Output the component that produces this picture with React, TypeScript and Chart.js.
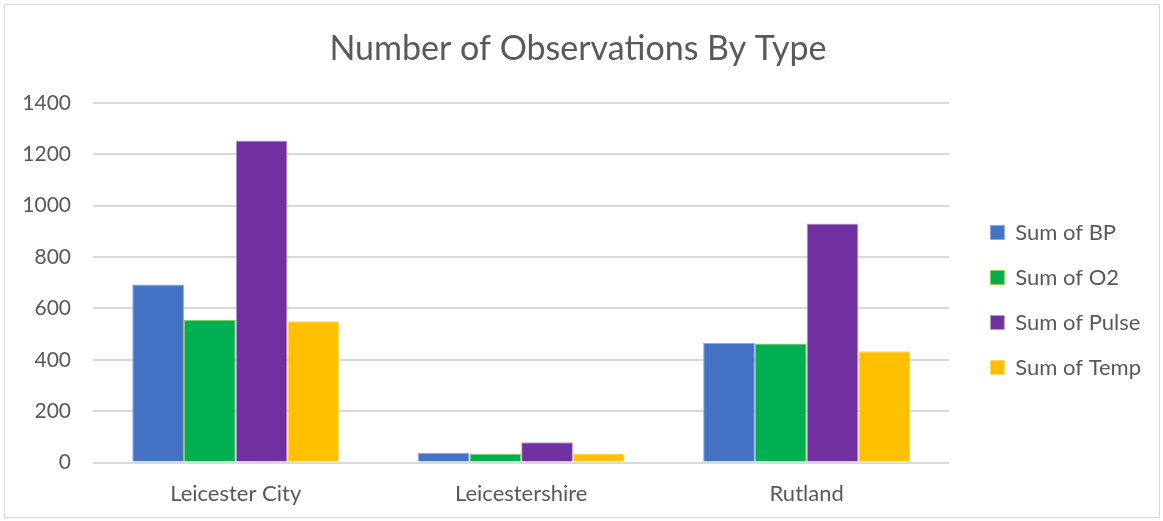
import React, { useEffect, useRef } from "react";
import { Chart, registerables } from "chart.js";

Chart.register(...registerables);

const categories = ["Leicester City", "Leicestershire", "Rutland"];
const seriesNames = ["Sum of BP", "Sum of O2", "Sum of Pulse", "Sum of Temp"];
const sumBP = [693, 38, 465];
const sumO2 = [556, 34, 463];
const sumPulse = [1253, 79, 930];
const sumTemp = [550, 35, 433];
const fillColors = ["#4472C4", "#00B050", "#7030A0", "#FFC000"];
const edgeColors = ["#8FAADC", "#92D050", "#B4A0D0", "#FFD966"];

const FONT = "Lato, 'Open Sans', sans-serif";

export default function App() {
  const ref = useRef<HTMLCanvasElement | null>(null);
  useEffect(() => {
    if (!ref.current) return;
    const values = [sumBP, sumO2, sumPulse, sumTemp];
    const chart = new Chart(ref.current, {
      type: "bar",
      data: {
        labels: categories,
        datasets: seriesNames.map((name, i) => ({
          label: name,
          data: values[i],
          backgroundColor: fillColors[i],
          borderColor: edgeColors[i],
          borderWidth: 1,
          categoryPercentage: 0.725,
          barPercentage: 1,
        })),
      },
      options: {
        animation: false,
        responsive: false,
        maintainAspectRatio: false,
        layout: { padding: { left: 0, right: 8, top: 0, bottom: 0 } },
        plugins: {
          title: {
            display: true,
            text: "Number of Observations By Type",
            color: "#595959",
            font: { family: FONT, size: 34, weight: "normal" },
            padding: { top: 24, bottom: 33 },
          },
          legend: {
            position: "right",
            title: {
              display: true,
              text: " ",
              font: { size: 10 },
              padding: { top: 33, bottom: 33 },
            },
            labels: {
              boxWidth: 14,
              boxHeight: 14,
              padding: 23,
              color: "#595959",
              font: { family: FONT, size: 22 },
            },
          },
          tooltip: { enabled: false },
        },
        scales: {
          x: {
            grid: { display: false },
            border: { display: false },
            ticks: { color: "#595959", font: { family: FONT, size: 22 }, padding: 10 },
          },
          y: {
            min: 0,
            max: 1400,
            ticks: {
              stepSize: 200,
              color: "#595959",
              font: { family: FONT, size: 21 },
              padding: 22,
              callback: (v: any) => String(v),
            },
            grid: { color: "#d9d9d9", lineWidth: 2, drawTicks: false },
            border: { display: false },
            afterFit: (s: any) => {
              s.width = 88;
            },
          },
          gap: {
            type: "linear",
            position: "right",
            display: true,
            grid: { display: false },
            border: { display: false },
            ticks: { display: false },
            afterFit: (s: any) => {
              s.width = 18;
            },
          },
        },
      },
    });
    return () => chart.destroy();
  }, []);
  return (
    <div
      style={{
        position: "absolute",
        left: 4,
        top: 4,
        width: 1156,
        height: 514,
        border: "1px solid #d9d9d9",
        boxSizing: "border-box",
        background: "#fff",
      }}
    >
      <canvas ref={ref} width={1154} height={512} style={{ display: "block" }} />
    </div>
  );
}
